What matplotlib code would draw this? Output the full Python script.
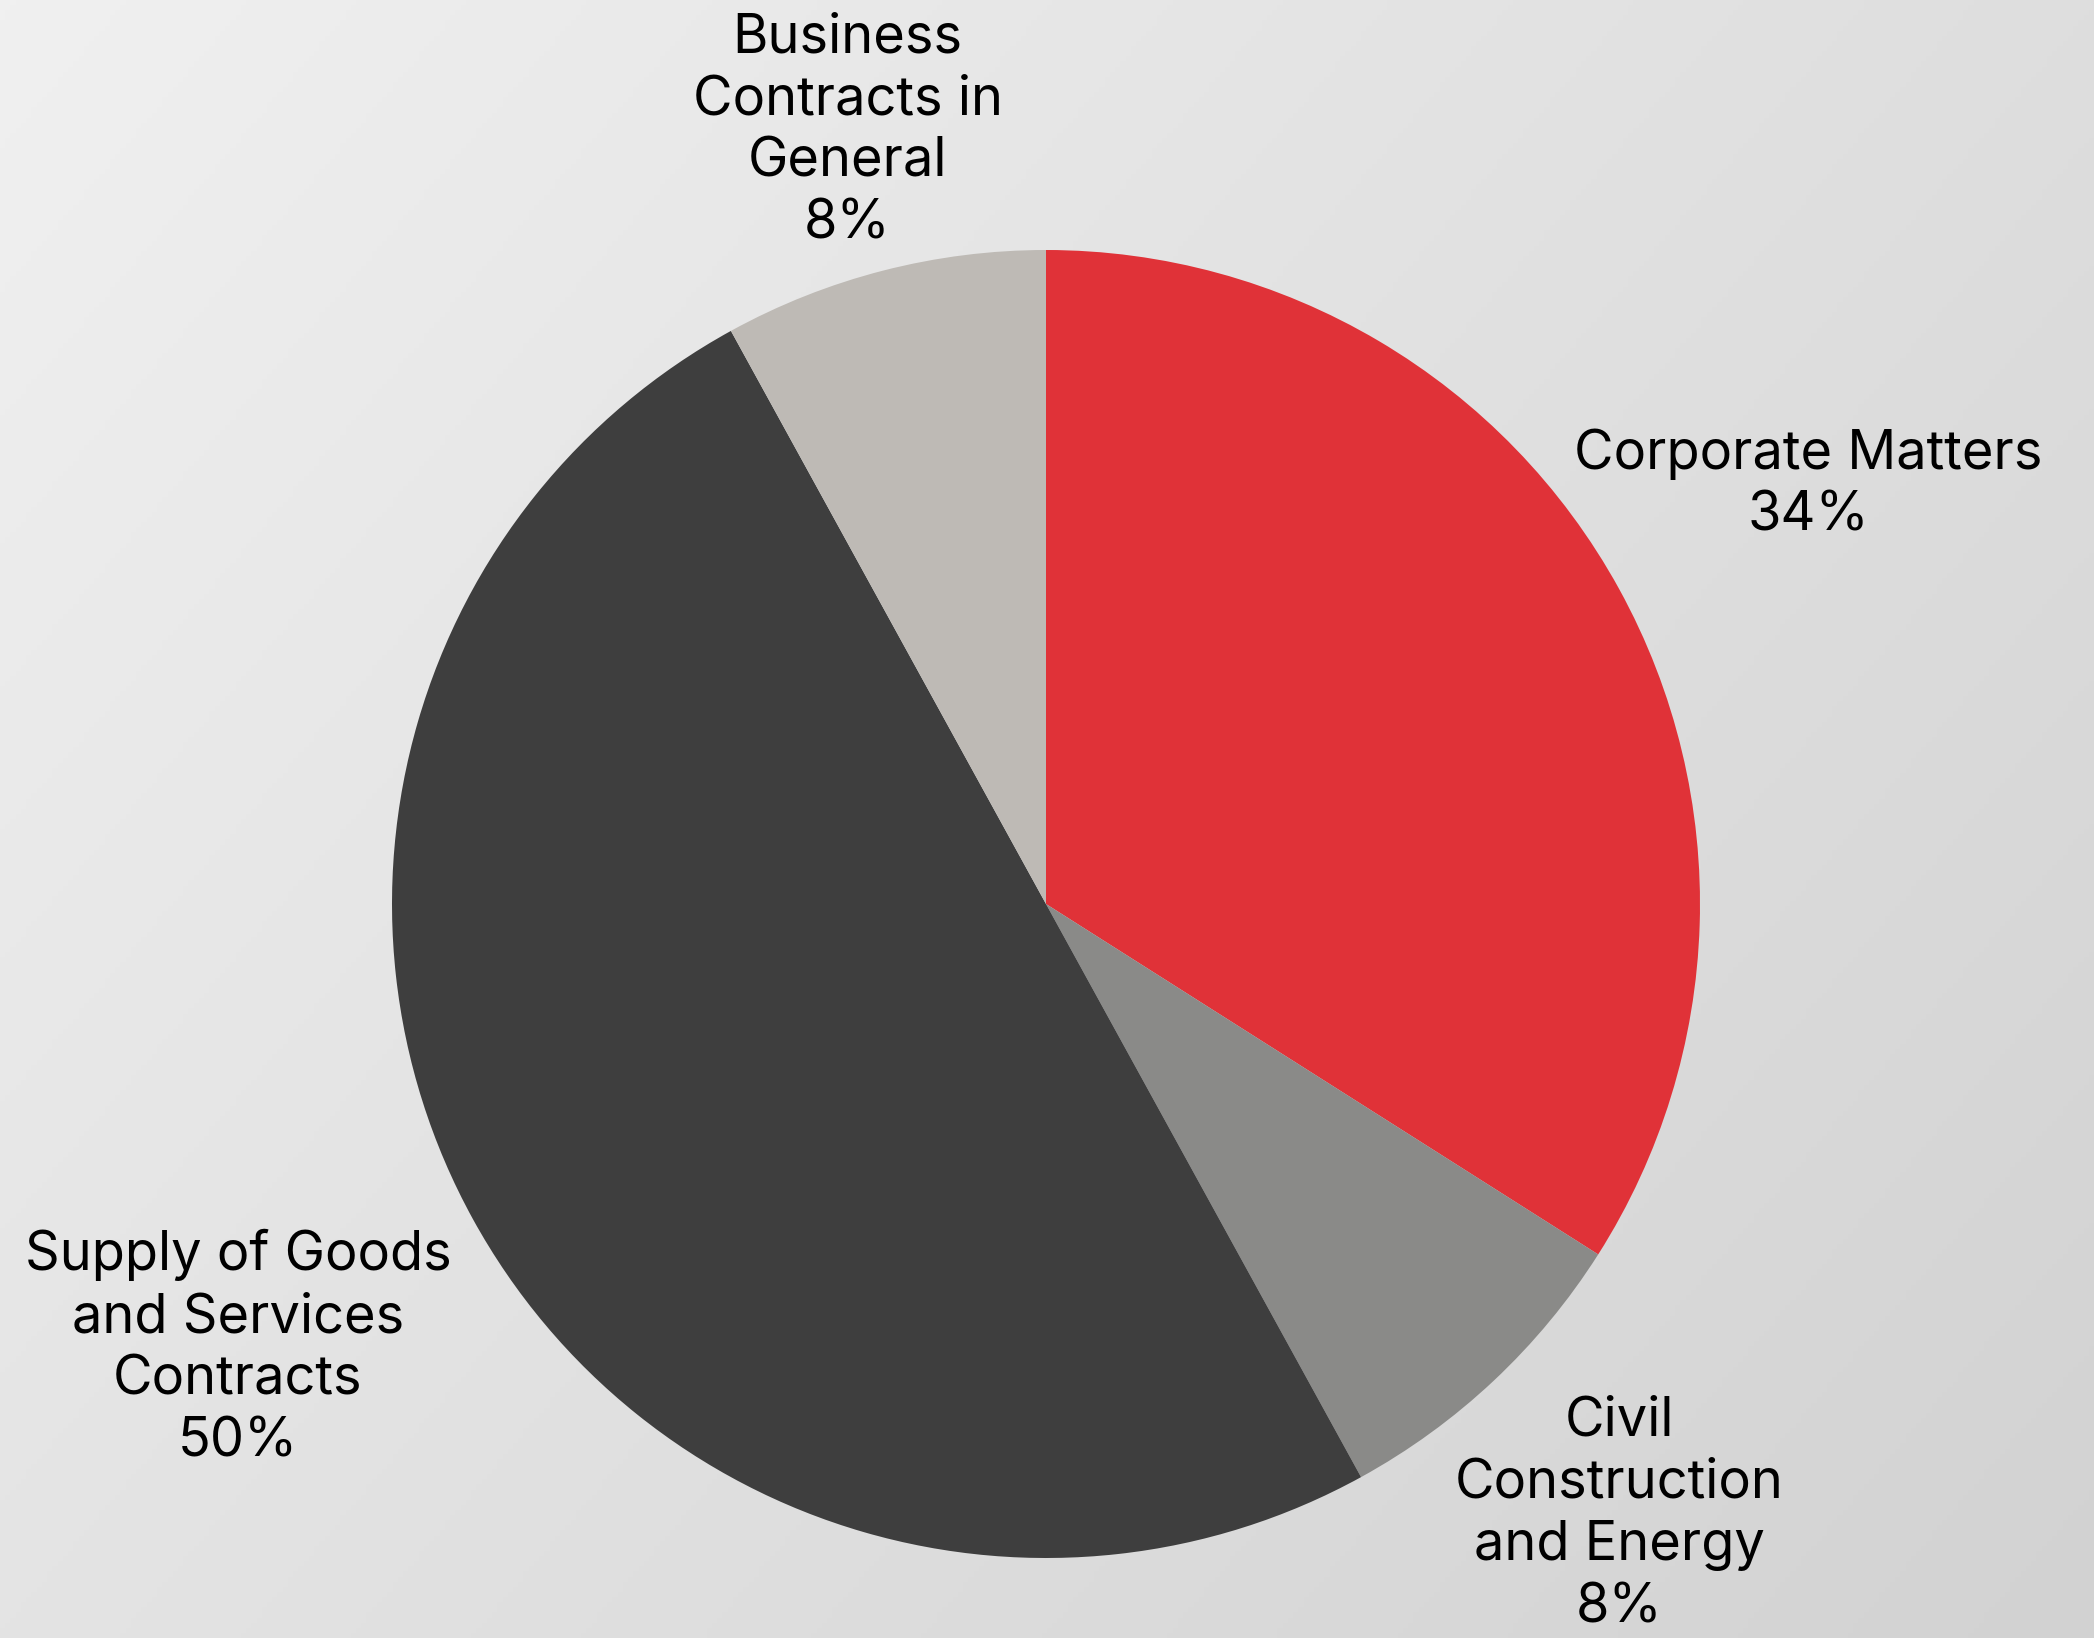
import numpy as np
import matplotlib
matplotlib.use("Agg")
import matplotlib.pyplot as plt
from matplotlib.colors import LinearSegmentedColormap

categories = [
    "Corporate Matters",
    "Civil\nConstruction\nand Energy",
    "Supply of Goods\nand Services\nContracts",
    "Business\nContracts in\nGeneral",
]
shares = [34, 8, 50, 8]
colors = ["#E03238", "#8A8A88", "#3E3E3E", "#BEBAB5"]
label_dist = [1.33, 1.28, 1.41, 1.22]

W, H = 2094, 1638
plt.rcParams["font.family"] = ["Inter", "DejaVu Sans"]

fig = plt.figure(figsize=(W / 100, H / 100), dpi=100)

# background gradient, light top-left to darker bottom-right
bg = fig.add_axes([0, 0, 1, 1], zorder=0)
gx, gy = np.meshgrid(np.linspace(0, 1, 400), np.linspace(0, 1, 320))
grad = (gx * 0.6 + gy * 0.4)
cmap = LinearSegmentedColormap.from_list("bg", ["#F0F0F0", "#D2D2D2"])
bg.imshow(grad, cmap=cmap, aspect="auto", extent=[0, 1, 1, 0])
bg.axis("off")

ax = fig.add_axes([0, 0, 1, 1], zorder=1)
ax.patch.set_visible(False)
cx, cy, r = 1046, 734, 654
wedges, _ = ax.pie(shares, colors=colors, startangle=90, counterclock=False,
                   center=(cx, cy), radius=r,
                   wedgeprops=dict(linewidth=0))
ax.set_xlim(0, W)
ax.set_ylim(0, H)
ax.set_aspect("equal")
ax.axis("off")

for w, name, pct, d in zip(wedges, categories, shares, label_dist):
    ang = np.deg2rad((w.theta1 + w.theta2) / 2)
    x = cx + d * r * np.cos(ang)
    y = cy + d * r * np.sin(ang)
    ax.text(x, y, f"{name}\n{pct}%", ha="center", va="center",
            fontsize=39, color="#000000", linespacing=1.28)

fig.savefig("out.png", dpi=100)
